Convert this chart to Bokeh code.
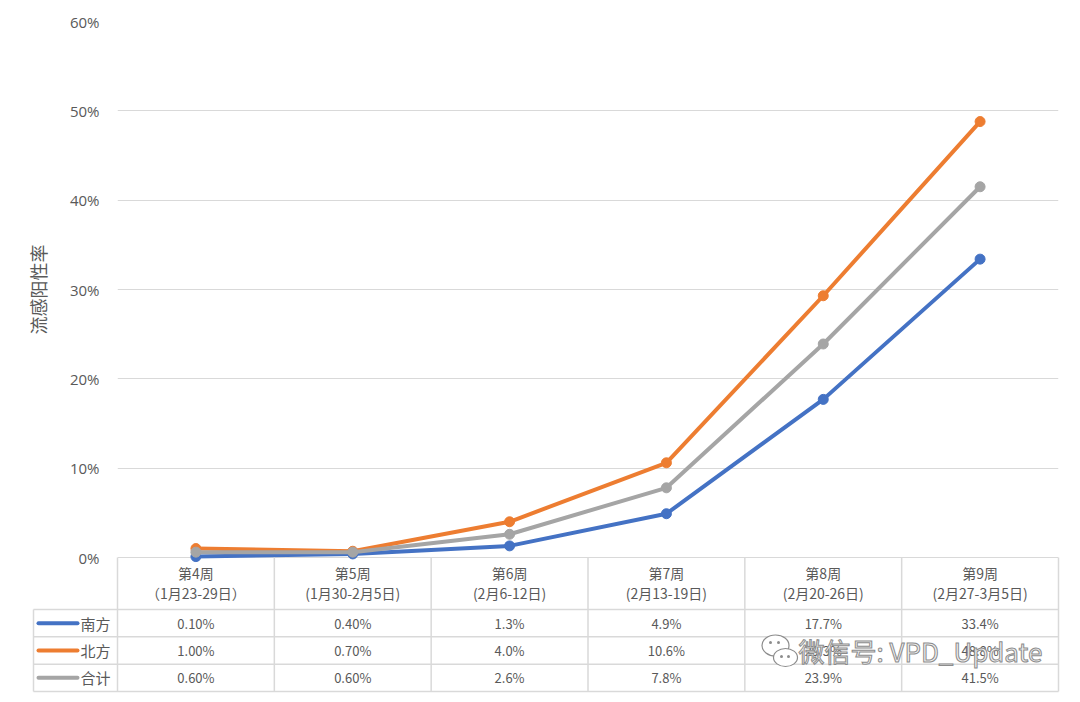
import math
from bokeh.plotting import figure
from bokeh.models import Range1d, FixedTicker, PrintfTickFormatter
from bokeh.core.properties import value
from bokeh.embed import file_html
from bokeh.resources import INLINE

# ---------------- data ----------------
weeks = ["第4周", "第5周", "第6周", "第7周", "第8周", "第9周"]
dates = ["（1月23-29日）", "(1月30-2月5日)", "(2月6-12日)", "(2月13-19日)", "(2月20-26日)", "(2月27-3月5日)"]
series_names = ["南方", "北方", "合计"]
south = [0.1, 0.4, 1.3, 4.9, 17.7, 33.4]
north = [1.0, 0.7, 4.0, 10.6, 29.3, 48.8]
total = [0.6, 0.6, 2.6, 7.8, 23.9, 41.5]
series_values = [south, north, total]
colors = ["#4472C4", "#ED7D31", "#A5A5A5"]
y_ticks = [0, 10, 20, 30, 40, 50, 60]
y_label = "流感阳性率"
watermark = "微信号: VPD_Update"

# ---------------- layout constants ----------------
W, H = 1072, 694
BL, BR, BT, BB = 117, 14, 21, 3
FW, FH = W - BL - BR, H - BT - BB
X0, X1 = -0.5, len(weeks) - 0.5
Y0, Y1 = -15, 60
PXX = FW / (X1 - X0)
PXY = FH / (Y1 - Y0)

def dx(px):
    return px / PXX

def dy(px):
    return px / PXY

GRID = "#D9D9D9"
TXT = "#595959"
CJK = "Noto Sans CJK SC"

p = figure(width=W, height=H, output_backend="svg", toolbar_location=None,
           x_range=Range1d(X0, X1), y_range=Range1d(Y0, Y1),
           x_axis_location=None, min_border_left=BL, min_border_right=BR,
           min_border_top=BT, min_border_bottom=BB, tools="")
p.outline_line_color = None
p.background_fill_color = "white"
p.border_fill_color = "white"
p.xgrid.visible = False
p.ygrid.ticker = FixedTicker(ticks=y_ticks)
p.ygrid.grid_line_color = GRID
p.ygrid.grid_line_width = 1

ax = p.yaxis[0]
ax.ticker = FixedTicker(ticks=y_ticks)
ax.formatter = PrintfTickFormatter(format="%d%%")
ax.axis_line_color = None
ax.major_tick_line_color = None
ax.minor_tick_line_color = None
ax.major_tick_out = 0
ax.major_tick_in = 0
ax.major_label_standoff = 18
ax.major_label_text_font = "Open Sans"
ax.major_label_text_font_size = "15px"
ax.major_label_text_color = TXT

xs = list(range(len(weeks)))

# y-axis title, centred on the chart area (0..60)
p.text(x=[X0 - dx(80)], y=[(y_ticks[0] + y_ticks[-1]) / 2], text=[y_label],
       angle=math.pi / 2, text_align="center", text_baseline="middle",
       text_font=value(CJK), text_font_size="18px", text_color=TXT, level="overlay")

# ---------------- table ----------------
header_h = 52
row_h = (691 - 609) / 3
legend_w = 84
xl = X0 - dx(legend_w)
row_tops = [-dy(header_h + i * row_h) for i in range(4)]

vx = [X0 + i for i in range(len(weeks) + 1)]
p.segment(x0=vx, y0=[0] * len(vx), x1=vx, y1=[Y0] * len(vx),
          line_color=GRID, line_width=1.5, level="overlay")
p.segment(x0=[xl] * 4, y0=row_tops, x1=[X1] * 4, y1=row_tops,
          line_color=GRID, line_width=1.5, level="overlay")
p.segment(x0=[xl], y0=[row_tops[0]], x1=[xl], y1=[Y0],
          line_color=GRID, line_width=1.5, level="overlay")

p.text(x=xs, y=[-dy(15)] * len(xs), text=weeks, text_align="center",
       text_baseline="middle", text_font=value(CJK), text_font_size="14px",
       text_color=TXT, level="overlay")
p.text(x=xs, y=[-dy(35)] * len(xs), text=dates, text_align="center",
       text_baseline="middle", text_font=value(CJK), text_font_size="14px",
       text_color=TXT, level="overlay")

for k, (name, vals, col) in enumerate(zip(series_names, series_values, colors)):
    yc = -dy(header_h + (k + 0.5) * row_h)
    labels = [("{:.2f}%" if i < 2 else "{:.1f}%").format(v) for i, v in enumerate(vals)]
    p.text(x=xs, y=[yc] * len(xs), text=labels, text_align="center",
           text_baseline="middle", text_font=value(CJK), text_font_size="13px",
           text_color=TXT, level="overlay")
    p.segment(x0=[X0 - dx(79)], y0=[yc], x1=[X0 - dx(40)], y1=[yc],
              line_color=col, line_width=4, line_cap="round", level="overlay")
    p.scatter(x=[X0 - dx(59)], y=[yc], size=9, marker="circle",
              fill_color=col, line_color=col, level="overlay")
    p.text(x=[X0 - dx(37)], y=[yc], text=[name], text_align="left",
           text_baseline="middle", text_font=value(CJK), text_font_size="15px",
           text_color=TXT, level="overlay")

# ---------------- series lines ----------------
for name, vals, col in zip(series_names, series_values, colors):
    p.line(xs, vals, line_color=col, line_width=4, line_join="round")
    p.scatter(xs, vals, size=10, marker="circle", fill_color=col, line_color=col)

# ---------------- watermark ----------------
wm_y = -dy(header_h + 1.5 * row_h)
wx = X0 + dx(658)
p.ellipse(x=[wx, wx + dx(10)], y=[wm_y + dy(5), wm_y - dy(7)],
          width=[dx(27), dx(24)], height=[dy(21), dy(18)],
          fill_color="white", line_color="#8c8c8c", line_width=1.2, level="overlay")
p.scatter(x=[wx - dx(5), wx + dx(3), wx + dx(6), wx + dx(13)],
          y=[wm_y + dy(8), wm_y + dy(8), wm_y - dy(6), wm_y - dy(6)],
          size=3, marker="circle", fill_color="#8c8c8c", line_color=None, level="overlay")
p.text(x=[X0 + dx(681)], y=[wm_y], text=[watermark], text_align="left",
       text_baseline="middle", text_font=value(CJK), text_font_size="26px",
       text_color="#f2f2f2", text_outline_color="#8c8c8c", level="overlay")

open("out.html", "w").write(file_html(p, INLINE))
